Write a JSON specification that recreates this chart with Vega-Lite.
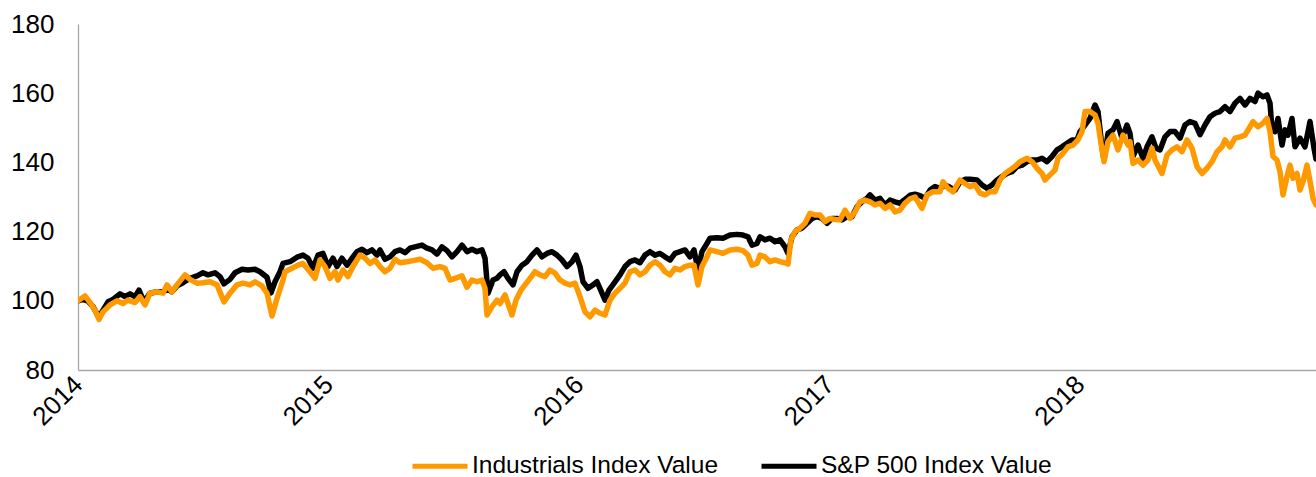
{
  "$schema": "https://vega.github.io/schema/vega-lite/v6.json",
  "width": 1238,
  "height": 346,
  "autosize": {"type": "none"},
  "padding": {"left": 78, "top": 24, "right": 0, "bottom": 107},
  "background": "white",
  "config": {
    "view": {"stroke": null},
    "font": "Liberation Sans",
    "axis": {"labelFont": "Liberation Sans", "labelColor": "#000000", "grid": false, "ticks": false, "domainColor": "#A6A6A6", "domainWidth": 1.3, "title": null},
    "legend": {"labelFont": "Liberation Sans", "padding": 0}
  },
  "data": {"values": [
{"t":2014.0000,"v":100.0,"s":"S&P 500 Index Value"},{"t":2014.0200,"v":100.4,"s":"S&P 500 Index Value"},{"t":2014.0399,"v":99.9,"s":"S&P 500 Index Value"},{"t":2014.0599,"v":98.3,"s":"S&P 500 Index Value"},{"t":2014.0838,"v":95.2,"s":"S&P 500 Index Value"},{"t":2014.0998,"v":97.3,"s":"S&P 500 Index Value"},{"t":2014.1198,"v":99.7,"s":"S&P 500 Index Value"},{"t":2014.1397,"v":100.4,"s":"S&P 500 Index Value"},{"t":2014.1677,"v":102.0,"s":"S&P 500 Index Value"},{"t":2014.1876,"v":101.2,"s":"S&P 500 Index Value"},{"t":2014.2076,"v":102.0,"s":"S&P 500 Index Value"},{"t":2014.2275,"v":101.2,"s":"S&P 500 Index Value"},{"t":2014.2435,"v":103.1,"s":"S&P 500 Index Value"},{"t":2014.2635,"v":99.7,"s":"S&P 500 Index Value"},{"t":2014.2874,"v":102.2,"s":"S&P 500 Index Value"},{"t":2014.3154,"v":102.6,"s":"S&P 500 Index Value"},{"t":2014.3393,"v":102.6,"s":"S&P 500 Index Value"},{"t":2014.3593,"v":103.3,"s":"S&P 500 Index Value"},{"t":2014.3752,"v":102.6,"s":"S&P 500 Index Value"},{"t":2014.3952,"v":104.3,"s":"S&P 500 Index Value"},{"t":2014.4192,"v":105.2,"s":"S&P 500 Index Value"},{"t":2014.4471,"v":106.5,"s":"S&P 500 Index Value"},{"t":2014.4750,"v":107.2,"s":"S&P 500 Index Value"},{"t":2014.4990,"v":108.1,"s":"S&P 500 Index Value"},{"t":2014.5190,"v":107.5,"s":"S&P 500 Index Value"},{"t":2014.5469,"v":108.1,"s":"S&P 500 Index Value"},{"t":2014.5669,"v":107.0,"s":"S&P 500 Index Value"},{"t":2014.5828,"v":104.9,"s":"S&P 500 Index Value"},{"t":2014.6068,"v":106.2,"s":"S&P 500 Index Value"},{"t":2014.6267,"v":108.1,"s":"S&P 500 Index Value"},{"t":2014.6547,"v":109.1,"s":"S&P 500 Index Value"},{"t":2014.6786,"v":108.9,"s":"S&P 500 Index Value"},{"t":2014.7066,"v":109.1,"s":"S&P 500 Index Value"},{"t":2014.7265,"v":108.4,"s":"S&P 500 Index Value"},{"t":2014.7545,"v":106.8,"s":"S&P 500 Index Value"},{"t":2014.7705,"v":102.3,"s":"S&P 500 Index Value"},{"t":2014.7864,"v":105.5,"s":"S&P 500 Index Value"},{"t":2014.8064,"v":108.4,"s":"S&P 500 Index Value"},{"t":2014.8184,"v":110.8,"s":"S&P 500 Index Value"},{"t":2014.8463,"v":111.3,"s":"S&P 500 Index Value"},{"t":2014.8743,"v":112.6,"s":"S&P 500 Index Value"},{"t":2014.8982,"v":113.2,"s":"S&P 500 Index Value"},{"t":2014.9182,"v":112.3,"s":"S&P 500 Index Value"},{"t":2014.9381,"v":109.4,"s":"S&P 500 Index Value"},{"t":2014.9581,"v":113.2,"s":"S&P 500 Index Value"},{"t":2014.9780,"v":113.7,"s":"S&P 500 Index Value"},{"t":2014.9980,"v":109.9,"s":"S&P 500 Index Value"},{"t":2015.0180,"v":112.3,"s":"S&P 500 Index Value"},{"t":2015.0339,"v":109.9,"s":"S&P 500 Index Value"},{"t":2015.0539,"v":112.3,"s":"S&P 500 Index Value"},{"t":2015.0739,"v":110.3,"s":"S&P 500 Index Value"},{"t":2015.0938,"v":112.3,"s":"S&P 500 Index Value"},{"t":2015.1138,"v":114.2,"s":"S&P 500 Index Value"},{"t":2015.1337,"v":114.9,"s":"S&P 500 Index Value"},{"t":2015.1537,"v":113.9,"s":"S&P 500 Index Value"},{"t":2015.1737,"v":114.7,"s":"S&P 500 Index Value"},{"t":2015.1936,"v":113.2,"s":"S&P 500 Index Value"},{"t":2015.2056,"v":114.7,"s":"S&P 500 Index Value"},{"t":2015.2255,"v":112.0,"s":"S&P 500 Index Value"},{"t":2015.2455,"v":112.7,"s":"S&P 500 Index Value"},{"t":2015.2655,"v":114.2,"s":"S&P 500 Index Value"},{"t":2015.2854,"v":114.7,"s":"S&P 500 Index Value"},{"t":2015.3054,"v":113.9,"s":"S&P 500 Index Value"},{"t":2015.3253,"v":115.2,"s":"S&P 500 Index Value"},{"t":2015.3453,"v":115.6,"s":"S&P 500 Index Value"},{"t":2015.3733,"v":116.1,"s":"S&P 500 Index Value"},{"t":2015.3932,"v":115.2,"s":"S&P 500 Index Value"},{"t":2015.4132,"v":114.7,"s":"S&P 500 Index Value"},{"t":2015.4331,"v":113.5,"s":"S&P 500 Index Value"},{"t":2015.4531,"v":115.6,"s":"S&P 500 Index Value"},{"t":2015.4731,"v":114.5,"s":"S&P 500 Index Value"},{"t":2015.4930,"v":112.7,"s":"S&P 500 Index Value"},{"t":2015.5130,"v":114.2,"s":"S&P 500 Index Value"},{"t":2015.5329,"v":116.1,"s":"S&P 500 Index Value"},{"t":2015.5529,"v":114.2,"s":"S&P 500 Index Value"},{"t":2015.5729,"v":114.9,"s":"S&P 500 Index Value"},{"t":2015.5928,"v":114.2,"s":"S&P 500 Index Value"},{"t":2015.6128,"v":114.7,"s":"S&P 500 Index Value"},{"t":2015.6248,"v":112.3,"s":"S&P 500 Index Value"},{"t":2015.6367,"v":102.2,"s":"S&P 500 Index Value"},{"t":2015.6567,"v":106.0,"s":"S&P 500 Index Value"},{"t":2015.6727,"v":106.5,"s":"S&P 500 Index Value"},{"t":2015.6846,"v":107.5,"s":"S&P 500 Index Value"},{"t":2015.7006,"v":108.4,"s":"S&P 500 Index Value"},{"t":2015.7166,"v":106.5,"s":"S&P 500 Index Value"},{"t":2015.7365,"v":104.6,"s":"S&P 500 Index Value"},{"t":2015.7525,"v":108.4,"s":"S&P 500 Index Value"},{"t":2015.7725,"v":110.3,"s":"S&P 500 Index Value"},{"t":2015.7924,"v":111.3,"s":"S&P 500 Index Value"},{"t":2015.8124,"v":113.2,"s":"S&P 500 Index Value"},{"t":2015.8323,"v":114.7,"s":"S&P 500 Index Value"},{"t":2015.8523,"v":112.7,"s":"S&P 500 Index Value"},{"t":2015.8723,"v":113.7,"s":"S&P 500 Index Value"},{"t":2015.8922,"v":114.2,"s":"S&P 500 Index Value"},{"t":2015.9122,"v":113.2,"s":"S&P 500 Index Value"},{"t":2015.9321,"v":111.8,"s":"S&P 500 Index Value"},{"t":2015.9521,"v":109.9,"s":"S&P 500 Index Value"},{"t":2015.9721,"v":111.3,"s":"S&P 500 Index Value"},{"t":2015.9880,"v":113.2,"s":"S&P 500 Index Value"},{"t":2016.0040,"v":109.9,"s":"S&P 500 Index Value"},{"t":2016.0160,"v":105.5,"s":"S&P 500 Index Value"},{"t":2016.0359,"v":103.6,"s":"S&P 500 Index Value"},{"t":2016.0559,"v":104.6,"s":"S&P 500 Index Value"},{"t":2016.0719,"v":105.5,"s":"S&P 500 Index Value"},{"t":2016.0918,"v":102.2,"s":"S&P 500 Index Value"},{"t":2016.1038,"v":100.2,"s":"S&P 500 Index Value"},{"t":2016.1198,"v":103.1,"s":"S&P 500 Index Value"},{"t":2016.1437,"v":105.5,"s":"S&P 500 Index Value"},{"t":2016.1637,"v":107.5,"s":"S&P 500 Index Value"},{"t":2016.1836,"v":109.9,"s":"S&P 500 Index Value"},{"t":2016.2036,"v":111.3,"s":"S&P 500 Index Value"},{"t":2016.2236,"v":111.8,"s":"S&P 500 Index Value"},{"t":2016.2435,"v":111.0,"s":"S&P 500 Index Value"},{"t":2016.2635,"v":113.2,"s":"S&P 500 Index Value"},{"t":2016.2834,"v":114.2,"s":"S&P 500 Index Value"},{"t":2016.3034,"v":113.2,"s":"S&P 500 Index Value"},{"t":2016.3234,"v":113.7,"s":"S&P 500 Index Value"},{"t":2016.3433,"v":112.7,"s":"S&P 500 Index Value"},{"t":2016.3633,"v":111.8,"s":"S&P 500 Index Value"},{"t":2016.3832,"v":113.7,"s":"S&P 500 Index Value"},{"t":2016.4032,"v":114.2,"s":"S&P 500 Index Value"},{"t":2016.4232,"v":114.7,"s":"S&P 500 Index Value"},{"t":2016.4431,"v":112.7,"s":"S&P 500 Index Value"},{"t":2016.4591,"v":114.7,"s":"S&P 500 Index Value"},{"t":2016.4750,"v":108.9,"s":"S&P 500 Index Value"},{"t":2016.4910,"v":114.2,"s":"S&P 500 Index Value"},{"t":2016.5110,"v":116.6,"s":"S&P 500 Index Value"},{"t":2016.5230,"v":118.1,"s":"S&P 500 Index Value"},{"t":2016.5509,"v":118.2,"s":"S&P 500 Index Value"},{"t":2016.5749,"v":118.1,"s":"S&P 500 Index Value"},{"t":2016.6028,"v":119.0,"s":"S&P 500 Index Value"},{"t":2016.6307,"v":119.2,"s":"S&P 500 Index Value"},{"t":2016.6547,"v":119.0,"s":"S&P 500 Index Value"},{"t":2016.6747,"v":118.5,"s":"S&P 500 Index Value"},{"t":2016.6906,"v":116.1,"s":"S&P 500 Index Value"},{"t":2016.7106,"v":116.6,"s":"S&P 500 Index Value"},{"t":2016.7226,"v":118.5,"s":"S&P 500 Index Value"},{"t":2016.7425,"v":117.6,"s":"S&P 500 Index Value"},{"t":2016.7625,"v":118.1,"s":"S&P 500 Index Value"},{"t":2016.7824,"v":117.1,"s":"S&P 500 Index Value"},{"t":2016.8024,"v":117.6,"s":"S&P 500 Index Value"},{"t":2016.8224,"v":115.6,"s":"S&P 500 Index Value"},{"t":2016.8343,"v":113.7,"s":"S&P 500 Index Value"},{"t":2016.8503,"v":118.5,"s":"S&P 500 Index Value"},{"t":2016.8703,"v":120.5,"s":"S&P 500 Index Value"},{"t":2016.8902,"v":121.0,"s":"S&P 500 Index Value"},{"t":2016.9102,"v":122.4,"s":"S&P 500 Index Value"},{"t":2016.9301,"v":123.8,"s":"S&P 500 Index Value"},{"t":2016.9501,"v":124.3,"s":"S&P 500 Index Value"},{"t":2016.9701,"v":123.8,"s":"S&P 500 Index Value"},{"t":2016.9900,"v":122.4,"s":"S&P 500 Index Value"},{"t":2017.0100,"v":123.8,"s":"S&P 500 Index Value"},{"t":2017.0299,"v":123.8,"s":"S&P 500 Index Value"},{"t":2017.0499,"v":123.4,"s":"S&P 500 Index Value"},{"t":2017.0699,"v":124.3,"s":"S&P 500 Index Value"},{"t":2017.0898,"v":124.3,"s":"S&P 500 Index Value"},{"t":2017.1098,"v":127.2,"s":"S&P 500 Index Value"},{"t":2017.1297,"v":128.6,"s":"S&P 500 Index Value"},{"t":2017.1497,"v":129.6,"s":"S&P 500 Index Value"},{"t":2017.1617,"v":130.6,"s":"S&P 500 Index Value"},{"t":2017.1816,"v":129.1,"s":"S&P 500 Index Value"},{"t":2017.2016,"v":129.6,"s":"S&P 500 Index Value"},{"t":2017.2216,"v":127.7,"s":"S&P 500 Index Value"},{"t":2017.2415,"v":129.1,"s":"S&P 500 Index Value"},{"t":2017.2615,"v":128.6,"s":"S&P 500 Index Value"},{"t":2017.2814,"v":128.2,"s":"S&P 500 Index Value"},{"t":2017.3014,"v":129.3,"s":"S&P 500 Index Value"},{"t":2017.3214,"v":130.5,"s":"S&P 500 Index Value"},{"t":2017.3413,"v":130.8,"s":"S&P 500 Index Value"},{"t":2017.3613,"v":130.4,"s":"S&P 500 Index Value"},{"t":2017.3812,"v":129.6,"s":"S&P 500 Index Value"},{"t":2017.4012,"v":132.0,"s":"S&P 500 Index Value"},{"t":2017.4212,"v":133.0,"s":"S&P 500 Index Value"},{"t":2017.4411,"v":132.5,"s":"S&P 500 Index Value"},{"t":2017.4611,"v":133.5,"s":"S&P 500 Index Value"},{"t":2017.4810,"v":132.8,"s":"S&P 500 Index Value"},{"t":2017.5010,"v":132.0,"s":"S&P 500 Index Value"},{"t":2017.5210,"v":134.4,"s":"S&P 500 Index Value"},{"t":2017.5409,"v":135.1,"s":"S&P 500 Index Value"},{"t":2017.5609,"v":135.1,"s":"S&P 500 Index Value"},{"t":2017.5888,"v":134.9,"s":"S&P 500 Index Value"},{"t":2017.6088,"v":133.5,"s":"S&P 500 Index Value"},{"t":2017.6287,"v":132.5,"s":"S&P 500 Index Value"},{"t":2017.6487,"v":133.5,"s":"S&P 500 Index Value"},{"t":2017.6687,"v":134.9,"s":"S&P 500 Index Value"},{"t":2017.6886,"v":135.9,"s":"S&P 500 Index Value"},{"t":2017.7086,"v":136.8,"s":"S&P 500 Index Value"},{"t":2017.7285,"v":137.3,"s":"S&P 500 Index Value"},{"t":2017.7485,"v":138.8,"s":"S&P 500 Index Value"},{"t":2017.7685,"v":139.2,"s":"S&P 500 Index Value"},{"t":2017.7884,"v":140.2,"s":"S&P 500 Index Value"},{"t":2017.8084,"v":140.7,"s":"S&P 500 Index Value"},{"t":2017.8283,"v":140.7,"s":"S&P 500 Index Value"},{"t":2017.8483,"v":141.2,"s":"S&P 500 Index Value"},{"t":2017.8683,"v":140.2,"s":"S&P 500 Index Value"},{"t":2017.8882,"v":141.7,"s":"S&P 500 Index Value"},{"t":2017.9082,"v":143.6,"s":"S&P 500 Index Value"},{"t":2017.9281,"v":144.5,"s":"S&P 500 Index Value"},{"t":2017.9481,"v":145.5,"s":"S&P 500 Index Value"},{"t":2017.9681,"v":146.5,"s":"S&P 500 Index Value"},{"t":2017.9880,"v":146.5,"s":"S&P 500 Index Value"},{"t":2018.0000,"v":148.9,"s":"S&P 500 Index Value"},{"t":2018.0200,"v":150.8,"s":"S&P 500 Index Value"},{"t":2018.0399,"v":152.7,"s":"S&P 500 Index Value"},{"t":2018.0599,"v":156.6,"s":"S&P 500 Index Value"},{"t":2018.0719,"v":154.7,"s":"S&P 500 Index Value"},{"t":2018.0878,"v":144.5,"s":"S&P 500 Index Value"},{"t":2018.0958,"v":140.7,"s":"S&P 500 Index Value"},{"t":2018.1118,"v":148.4,"s":"S&P 500 Index Value"},{"t":2018.1317,"v":149.4,"s":"S&P 500 Index Value"},{"t":2018.1477,"v":151.8,"s":"S&P 500 Index Value"},{"t":2018.1677,"v":147.0,"s":"S&P 500 Index Value"},{"t":2018.1876,"v":150.8,"s":"S&P 500 Index Value"},{"t":2018.1996,"v":148.4,"s":"S&P 500 Index Value"},{"t":2018.2116,"v":141.7,"s":"S&P 500 Index Value"},{"t":2018.2315,"v":145.0,"s":"S&P 500 Index Value"},{"t":2018.2515,"v":141.2,"s":"S&P 500 Index Value"},{"t":2018.2675,"v":144.5,"s":"S&P 500 Index Value"},{"t":2018.2874,"v":147.4,"s":"S&P 500 Index Value"},{"t":2018.3034,"v":144.1,"s":"S&P 500 Index Value"},{"t":2018.3194,"v":143.6,"s":"S&P 500 Index Value"},{"t":2018.3393,"v":147.4,"s":"S&P 500 Index Value"},{"t":2018.3593,"v":148.9,"s":"S&P 500 Index Value"},{"t":2018.3792,"v":148.9,"s":"S&P 500 Index Value"},{"t":2018.3992,"v":147.0,"s":"S&P 500 Index Value"},{"t":2018.4192,"v":150.8,"s":"S&P 500 Index Value"},{"t":2018.4391,"v":151.8,"s":"S&P 500 Index Value"},{"t":2018.4591,"v":151.3,"s":"S&P 500 Index Value"},{"t":2018.4790,"v":148.0,"s":"S&P 500 Index Value"},{"t":2018.4990,"v":150.8,"s":"S&P 500 Index Value"},{"t":2018.5190,"v":153.2,"s":"S&P 500 Index Value"},{"t":2018.5389,"v":154.2,"s":"S&P 500 Index Value"},{"t":2018.5589,"v":154.7,"s":"S&P 500 Index Value"},{"t":2018.5788,"v":156.1,"s":"S&P 500 Index Value"},{"t":2018.5988,"v":154.7,"s":"S&P 500 Index Value"},{"t":2018.6188,"v":157.1,"s":"S&P 500 Index Value"},{"t":2018.6387,"v":158.5,"s":"S&P 500 Index Value"},{"t":2018.6587,"v":156.6,"s":"S&P 500 Index Value"},{"t":2018.6786,"v":158.5,"s":"S&P 500 Index Value"},{"t":2018.6986,"v":157.6,"s":"S&P 500 Index Value"},{"t":2018.7106,"v":160.0,"s":"S&P 500 Index Value"},{"t":2018.7305,"v":159.0,"s":"S&P 500 Index Value"},{"t":2018.7465,"v":159.5,"s":"S&P 500 Index Value"},{"t":2018.7585,"v":157.1,"s":"S&P 500 Index Value"},{"t":2018.7665,"v":149.4,"s":"S&P 500 Index Value"},{"t":2018.7784,"v":148.9,"s":"S&P 500 Index Value"},{"t":2018.7904,"v":152.7,"s":"S&P 500 Index Value"},{"t":2018.8064,"v":145.0,"s":"S&P 500 Index Value"},{"t":2018.8184,"v":149.4,"s":"S&P 500 Index Value"},{"t":2018.8303,"v":147.9,"s":"S&P 500 Index Value"},{"t":2018.8463,"v":152.7,"s":"S&P 500 Index Value"},{"t":2018.8583,"v":144.5,"s":"S&P 500 Index Value"},{"t":2018.8782,"v":147.0,"s":"S&P 500 Index Value"},{"t":2018.8982,"v":144.5,"s":"S&P 500 Index Value"},{"t":2018.9182,"v":151.8,"s":"S&P 500 Index Value"},{"t":2018.9341,"v":144.1,"s":"S&P 500 Index Value"},{"t":2018.9421,"v":141.0,"s":"S&P 500 Index Value"},
{"t":2014.0000,"v":100.0,"s":"Industrials Index Value"},{"t":2014.0279,"v":101.4,"s":"Industrials Index Value"},{"t":2014.0479,"v":99.5,"s":"Industrials Index Value"},{"t":2014.0679,"v":97.3,"s":"Industrials Index Value"},{"t":2014.0838,"v":94.6,"s":"Industrials Index Value"},{"t":2014.0998,"v":96.8,"s":"Industrials Index Value"},{"t":2014.1277,"v":98.8,"s":"Industrials Index Value"},{"t":2014.1557,"v":100.0,"s":"Industrials Index Value"},{"t":2014.1796,"v":99.2,"s":"Industrials Index Value"},{"t":2014.1996,"v":100.2,"s":"Industrials Index Value"},{"t":2014.2275,"v":99.5,"s":"Industrials Index Value"},{"t":2014.2475,"v":101.2,"s":"Industrials Index Value"},{"t":2014.2675,"v":98.8,"s":"Industrials Index Value"},{"t":2014.2874,"v":102.2,"s":"Industrials Index Value"},{"t":2014.3154,"v":102.6,"s":"Industrials Index Value"},{"t":2014.3393,"v":102.2,"s":"Industrials Index Value"},{"t":2014.3553,"v":104.6,"s":"Industrials Index Value"},{"t":2014.3752,"v":102.6,"s":"Industrials Index Value"},{"t":2014.3952,"v":104.6,"s":"Industrials Index Value"},{"t":2014.4271,"v":107.5,"s":"Industrials Index Value"},{"t":2014.4471,"v":106.2,"s":"Industrials Index Value"},{"t":2014.4750,"v":105.1,"s":"Industrials Index Value"},{"t":2014.4990,"v":105.2,"s":"Industrials Index Value"},{"t":2014.5269,"v":105.5,"s":"Industrials Index Value"},{"t":2014.5549,"v":104.6,"s":"Industrials Index Value"},{"t":2014.5828,"v":99.7,"s":"Industrials Index Value"},{"t":2014.6068,"v":102.2,"s":"Industrials Index Value"},{"t":2014.6347,"v":104.6,"s":"Industrials Index Value"},{"t":2014.6587,"v":105.1,"s":"Industrials Index Value"},{"t":2014.6866,"v":104.6,"s":"Industrials Index Value"},{"t":2014.7066,"v":105.5,"s":"Industrials Index Value"},{"t":2014.7345,"v":104.3,"s":"Industrials Index Value"},{"t":2014.7545,"v":102.2,"s":"Industrials Index Value"},{"t":2014.7745,"v":95.6,"s":"Industrials Index Value"},{"t":2014.7944,"v":100.7,"s":"Industrials Index Value"},{"t":2014.8184,"v":106.0,"s":"Industrials Index Value"},{"t":2014.8263,"v":108.4,"s":"Industrials Index Value"},{"t":2014.8543,"v":109.4,"s":"Industrials Index Value"},{"t":2014.8782,"v":110.3,"s":"Industrials Index Value"},{"t":2014.8982,"v":110.8,"s":"Industrials Index Value"},{"t":2014.9261,"v":108.4,"s":"Industrials Index Value"},{"t":2014.9461,"v":106.5,"s":"Industrials Index Value"},{"t":2014.9661,"v":111.8,"s":"Industrials Index Value"},{"t":2014.9860,"v":109.9,"s":"Industrials Index Value"},{"t":2015.0060,"v":106.5,"s":"Industrials Index Value"},{"t":2015.0259,"v":108.4,"s":"Industrials Index Value"},{"t":2015.0379,"v":106.0,"s":"Industrials Index Value"},{"t":2015.0579,"v":108.9,"s":"Industrials Index Value"},{"t":2015.0778,"v":107.0,"s":"Industrials Index Value"},{"t":2015.0978,"v":109.9,"s":"Industrials Index Value"},{"t":2015.1257,"v":113.2,"s":"Industrials Index Value"},{"t":2015.1457,"v":112.3,"s":"Industrials Index Value"},{"t":2015.1657,"v":110.8,"s":"Industrials Index Value"},{"t":2015.1856,"v":111.8,"s":"Industrials Index Value"},{"t":2015.2056,"v":109.9,"s":"Industrials Index Value"},{"t":2015.2255,"v":108.4,"s":"Industrials Index Value"},{"t":2015.2455,"v":109.4,"s":"Industrials Index Value"},{"t":2015.2655,"v":112.0,"s":"Industrials Index Value"},{"t":2015.2854,"v":111.0,"s":"Industrials Index Value"},{"t":2015.3134,"v":111.3,"s":"Industrials Index Value"},{"t":2015.3373,"v":111.6,"s":"Industrials Index Value"},{"t":2015.3653,"v":112.0,"s":"Industrials Index Value"},{"t":2015.3932,"v":111.0,"s":"Industrials Index Value"},{"t":2015.4172,"v":109.4,"s":"Industrials Index Value"},{"t":2015.4451,"v":109.9,"s":"Industrials Index Value"},{"t":2015.4651,"v":109.4,"s":"Industrials Index Value"},{"t":2015.4850,"v":106.0,"s":"Industrials Index Value"},{"t":2015.5050,"v":106.5,"s":"Industrials Index Value"},{"t":2015.5329,"v":107.2,"s":"Industrials Index Value"},{"t":2015.5529,"v":103.9,"s":"Industrials Index Value"},{"t":2015.5729,"v":106.0,"s":"Industrials Index Value"},{"t":2015.5928,"v":105.5,"s":"Industrials Index Value"},{"t":2015.6128,"v":106.0,"s":"Industrials Index Value"},{"t":2015.6248,"v":103.6,"s":"Industrials Index Value"},{"t":2015.6327,"v":95.9,"s":"Industrials Index Value"},{"t":2015.6527,"v":98.3,"s":"Industrials Index Value"},{"t":2015.6727,"v":100.2,"s":"Industrials Index Value"},{"t":2015.6846,"v":99.2,"s":"Industrials Index Value"},{"t":2015.7046,"v":101.7,"s":"Industrials Index Value"},{"t":2015.7166,"v":99.2,"s":"Industrials Index Value"},{"t":2015.7325,"v":95.9,"s":"Industrials Index Value"},{"t":2015.7485,"v":100.2,"s":"Industrials Index Value"},{"t":2015.7685,"v":103.1,"s":"Industrials Index Value"},{"t":2015.7844,"v":104.6,"s":"Industrials Index Value"},{"t":2015.8044,"v":106.5,"s":"Industrials Index Value"},{"t":2015.8244,"v":108.4,"s":"Industrials Index Value"},{"t":2015.8443,"v":107.5,"s":"Industrials Index Value"},{"t":2015.8643,"v":107.0,"s":"Industrials Index Value"},{"t":2015.8842,"v":108.9,"s":"Industrials Index Value"},{"t":2015.9042,"v":108.0,"s":"Industrials Index Value"},{"t":2015.9242,"v":106.0,"s":"Industrials Index Value"},{"t":2015.9441,"v":105.1,"s":"Industrials Index Value"},{"t":2015.9641,"v":104.6,"s":"Industrials Index Value"},{"t":2015.9840,"v":105.1,"s":"Industrials Index Value"},{"t":2016.0040,"v":101.2,"s":"Industrials Index Value"},{"t":2016.0240,"v":96.8,"s":"Industrials Index Value"},{"t":2016.0439,"v":95.4,"s":"Industrials Index Value"},{"t":2016.0639,"v":97.3,"s":"Industrials Index Value"},{"t":2016.0838,"v":96.4,"s":"Industrials Index Value"},{"t":2016.1038,"v":95.9,"s":"Industrials Index Value"},{"t":2016.1238,"v":100.2,"s":"Industrials Index Value"},{"t":2016.1437,"v":102.2,"s":"Industrials Index Value"},{"t":2016.1637,"v":103.6,"s":"Industrials Index Value"},{"t":2016.1836,"v":105.1,"s":"Industrials Index Value"},{"t":2016.2036,"v":108.4,"s":"Industrials Index Value"},{"t":2016.2236,"v":108.9,"s":"Industrials Index Value"},{"t":2016.2435,"v":107.5,"s":"Industrials Index Value"},{"t":2016.2635,"v":108.4,"s":"Industrials Index Value"},{"t":2016.2834,"v":110.3,"s":"Industrials Index Value"},{"t":2016.3034,"v":111.3,"s":"Industrials Index Value"},{"t":2016.3234,"v":110.3,"s":"Industrials Index Value"},{"t":2016.3433,"v":108.4,"s":"Industrials Index Value"},{"t":2016.3633,"v":107.5,"s":"Industrials Index Value"},{"t":2016.3832,"v":109.4,"s":"Industrials Index Value"},{"t":2016.4032,"v":108.9,"s":"Industrials Index Value"},{"t":2016.4232,"v":109.9,"s":"Industrials Index Value"},{"t":2016.4431,"v":110.3,"s":"Industrials Index Value"},{"t":2016.4591,"v":110.3,"s":"Industrials Index Value"},{"t":2016.4750,"v":104.6,"s":"Industrials Index Value"},{"t":2016.4910,"v":109.9,"s":"Industrials Index Value"},{"t":2016.5110,"v":112.7,"s":"Industrials Index Value"},{"t":2016.5230,"v":114.7,"s":"Industrials Index Value"},{"t":2016.5509,"v":114.2,"s":"Industrials Index Value"},{"t":2016.5749,"v":113.7,"s":"Industrials Index Value"},{"t":2016.6028,"v":114.7,"s":"Industrials Index Value"},{"t":2016.6307,"v":114.9,"s":"Industrials Index Value"},{"t":2016.6547,"v":114.5,"s":"Industrials Index Value"},{"t":2016.6747,"v":113.2,"s":"Industrials Index Value"},{"t":2016.6906,"v":110.3,"s":"Industrials Index Value"},{"t":2016.7106,"v":110.8,"s":"Industrials Index Value"},{"t":2016.7226,"v":113.2,"s":"Industrials Index Value"},{"t":2016.7425,"v":112.7,"s":"Industrials Index Value"},{"t":2016.7625,"v":111.3,"s":"Industrials Index Value"},{"t":2016.7824,"v":111.8,"s":"Industrials Index Value"},{"t":2016.8024,"v":111.3,"s":"Industrials Index Value"},{"t":2016.8224,"v":111.0,"s":"Industrials Index Value"},{"t":2016.8343,"v":110.6,"s":"Industrials Index Value"},{"t":2016.8463,"v":117.6,"s":"Industrials Index Value"},{"t":2016.8623,"v":120.0,"s":"Industrials Index Value"},{"t":2016.8822,"v":121.0,"s":"Industrials Index Value"},{"t":2016.9022,"v":122.4,"s":"Industrials Index Value"},{"t":2016.9222,"v":125.3,"s":"Industrials Index Value"},{"t":2016.9421,"v":124.8,"s":"Industrials Index Value"},{"t":2016.9621,"v":124.8,"s":"Industrials Index Value"},{"t":2016.9820,"v":122.9,"s":"Industrials Index Value"},{"t":2017.0020,"v":123.8,"s":"Industrials Index Value"},{"t":2017.0220,"v":123.5,"s":"Industrials Index Value"},{"t":2017.0419,"v":123.4,"s":"Industrials Index Value"},{"t":2017.0619,"v":126.2,"s":"Industrials Index Value"},{"t":2017.0818,"v":123.8,"s":"Industrials Index Value"},{"t":2017.1018,"v":125.7,"s":"Industrials Index Value"},{"t":2017.1218,"v":128.6,"s":"Industrials Index Value"},{"t":2017.1417,"v":129.1,"s":"Industrials Index Value"},{"t":2017.1617,"v":128.6,"s":"Industrials Index Value"},{"t":2017.1816,"v":127.7,"s":"Industrials Index Value"},{"t":2017.2016,"v":128.2,"s":"Industrials Index Value"},{"t":2017.2216,"v":126.7,"s":"Industrials Index Value"},{"t":2017.2415,"v":127.7,"s":"Industrials Index Value"},{"t":2017.2615,"v":125.7,"s":"Industrials Index Value"},{"t":2017.2814,"v":126.2,"s":"Industrials Index Value"},{"t":2017.3014,"v":128.2,"s":"Industrials Index Value"},{"t":2017.3214,"v":129.5,"s":"Industrials Index Value"},{"t":2017.3413,"v":130.0,"s":"Industrials Index Value"},{"t":2017.3693,"v":126.7,"s":"Industrials Index Value"},{"t":2017.3892,"v":130.6,"s":"Industrials Index Value"},{"t":2017.4132,"v":131.5,"s":"Industrials Index Value"},{"t":2017.4411,"v":131.5,"s":"Industrials Index Value"},{"t":2017.4531,"v":134.4,"s":"Industrials Index Value"},{"t":2017.4731,"v":132.5,"s":"Industrials Index Value"},{"t":2017.4930,"v":131.5,"s":"Industrials Index Value"},{"t":2017.5210,"v":134.9,"s":"Industrials Index Value"},{"t":2017.5409,"v":133.9,"s":"Industrials Index Value"},{"t":2017.5609,"v":133.0,"s":"Industrials Index Value"},{"t":2017.5808,"v":133.5,"s":"Industrials Index Value"},{"t":2017.6008,"v":131.1,"s":"Industrials Index Value"},{"t":2017.6208,"v":130.6,"s":"Industrials Index Value"},{"t":2017.6407,"v":131.5,"s":"Industrials Index Value"},{"t":2017.6607,"v":131.5,"s":"Industrials Index Value"},{"t":2017.6806,"v":134.9,"s":"Industrials Index Value"},{"t":2017.7006,"v":136.8,"s":"Industrials Index Value"},{"t":2017.7206,"v":137.8,"s":"Industrials Index Value"},{"t":2017.7405,"v":138.8,"s":"Industrials Index Value"},{"t":2017.7605,"v":140.2,"s":"Industrials Index Value"},{"t":2017.7884,"v":141.2,"s":"Industrials Index Value"},{"t":2017.8084,"v":140.2,"s":"Industrials Index Value"},{"t":2017.8283,"v":138.3,"s":"Industrials Index Value"},{"t":2017.8483,"v":136.8,"s":"Industrials Index Value"},{"t":2017.8603,"v":134.9,"s":"Industrials Index Value"},{"t":2017.8802,"v":136.4,"s":"Industrials Index Value"},{"t":2017.9002,"v":137.8,"s":"Industrials Index Value"},{"t":2017.9122,"v":141.2,"s":"Industrials Index Value"},{"t":2017.9321,"v":142.6,"s":"Industrials Index Value"},{"t":2017.9521,"v":144.5,"s":"Industrials Index Value"},{"t":2017.9721,"v":145.0,"s":"Industrials Index Value"},{"t":2017.9920,"v":146.5,"s":"Industrials Index Value"},{"t":2018.0080,"v":148.9,"s":"Industrials Index Value"},{"t":2018.0200,"v":154.7,"s":"Industrials Index Value"},{"t":2018.0399,"v":154.7,"s":"Industrials Index Value"},{"t":2018.0599,"v":153.7,"s":"Industrials Index Value"},{"t":2018.0719,"v":151.3,"s":"Industrials Index Value"},{"t":2018.0878,"v":143.6,"s":"Industrials Index Value"},{"t":2018.0958,"v":140.2,"s":"Industrials Index Value"},{"t":2018.1118,"v":146.0,"s":"Industrials Index Value"},{"t":2018.1317,"v":147.9,"s":"Industrials Index Value"},{"t":2018.1517,"v":143.6,"s":"Industrials Index Value"},{"t":2018.1717,"v":147.9,"s":"Industrials Index Value"},{"t":2018.1916,"v":145.0,"s":"Industrials Index Value"},{"t":2018.1996,"v":146.0,"s":"Industrials Index Value"},{"t":2018.2116,"v":139.7,"s":"Industrials Index Value"},{"t":2018.2315,"v":140.7,"s":"Industrials Index Value"},{"t":2018.2515,"v":139.2,"s":"Industrials Index Value"},{"t":2018.2715,"v":140.7,"s":"Industrials Index Value"},{"t":2018.2874,"v":144.1,"s":"Industrials Index Value"},{"t":2018.2994,"v":140.7,"s":"Industrials Index Value"},{"t":2018.3273,"v":136.8,"s":"Industrials Index Value"},{"t":2018.3473,"v":142.1,"s":"Industrials Index Value"},{"t":2018.3673,"v":143.6,"s":"Industrials Index Value"},{"t":2018.3872,"v":144.5,"s":"Industrials Index Value"},{"t":2018.4072,"v":143.1,"s":"Industrials Index Value"},{"t":2018.4271,"v":146.5,"s":"Industrials Index Value"},{"t":2018.4471,"v":144.1,"s":"Industrials Index Value"},{"t":2018.4671,"v":138.8,"s":"Industrials Index Value"},{"t":2018.4870,"v":136.8,"s":"Industrials Index Value"},{"t":2018.5070,"v":138.3,"s":"Industrials Index Value"},{"t":2018.5269,"v":140.2,"s":"Industrials Index Value"},{"t":2018.5469,"v":143.1,"s":"Industrials Index Value"},{"t":2018.5669,"v":144.5,"s":"Industrials Index Value"},{"t":2018.5788,"v":146.5,"s":"Industrials Index Value"},{"t":2018.5988,"v":144.5,"s":"Industrials Index Value"},{"t":2018.6188,"v":147.0,"s":"Industrials Index Value"},{"t":2018.6387,"v":147.4,"s":"Industrials Index Value"},{"t":2018.6587,"v":147.9,"s":"Industrials Index Value"},{"t":2018.6786,"v":150.3,"s":"Industrials Index Value"},{"t":2018.6906,"v":151.8,"s":"Industrials Index Value"},{"t":2018.7106,"v":150.3,"s":"Industrials Index Value"},{"t":2018.7305,"v":151.3,"s":"Industrials Index Value"},{"t":2018.7465,"v":152.7,"s":"Industrials Index Value"},{"t":2018.7585,"v":148.9,"s":"Industrials Index Value"},{"t":2018.7705,"v":141.7,"s":"Industrials Index Value"},{"t":2018.7864,"v":140.7,"s":"Industrials Index Value"},{"t":2018.7984,"v":137.3,"s":"Industrials Index Value"},{"t":2018.8104,"v":130.6,"s":"Industrials Index Value"},{"t":2018.8263,"v":135.9,"s":"Industrials Index Value"},{"t":2018.8383,"v":139.2,"s":"Industrials Index Value"},{"t":2018.8503,"v":135.4,"s":"Industrials Index Value"},{"t":2018.8663,"v":136.8,"s":"Industrials Index Value"},{"t":2018.8782,"v":132.0,"s":"Industrials Index Value"},{"t":2018.8902,"v":134.4,"s":"Industrials Index Value"},{"t":2018.9062,"v":139.2,"s":"Industrials Index Value"},{"t":2018.9222,"v":133.0,"s":"Industrials Index Value"},{"t":2018.9301,"v":129.6,"s":"Industrials Index Value"},{"t":2018.9421,"v":127.7,"s":"Industrials Index Value"}
  ]},
  "mark": {"type": "line", "strokeWidth": 5.5, "strokeJoin": "round", "strokeCap": "round", "clip": true},
  "encoding": {
    "x": {
      "field": "t", "type": "quantitative",
      "scale": {"domain": [2014, 2018.9421], "nice": false, "zero": false},
      "axis": {"values": [2014, 2015, 2016, 2017, 2018], "format": "d", "labelAngle": -45, "labelAlign": "right", "labelBaseline": "middle", "labelFontSize": 26, "labelPadding": 10, "labelFlush": false, "labelOverlap": false}
    },
    "y": {
      "field": "v", "type": "quantitative",
      "scale": {"domain": [80, 180], "nice": false, "zero": false},
      "axis": {"values": [80, 100, 120, 140, 160, 180], "labelFontSize": 26, "labelPadding": 24}
    },
    "color": {
      "field": "s", "type": "nominal",
      "scale": {"domain": ["Industrials Index Value", "S&P 500 Index Value"], "range": ["#FF9900", "#000000"]},
      "legend": {"title": null, "orient": "none", "legendX": 332, "legendY": 412, "direction": "horizontal", "symbolType": "stroke", "symbolSize": 3025, "symbolStrokeWidth": 5, "labelFontSize": 24.5, "labelOffset": 2, "columnPadding": 32, "labelColor": "#000000", "labelLimit": 400}
    }
  }
}
